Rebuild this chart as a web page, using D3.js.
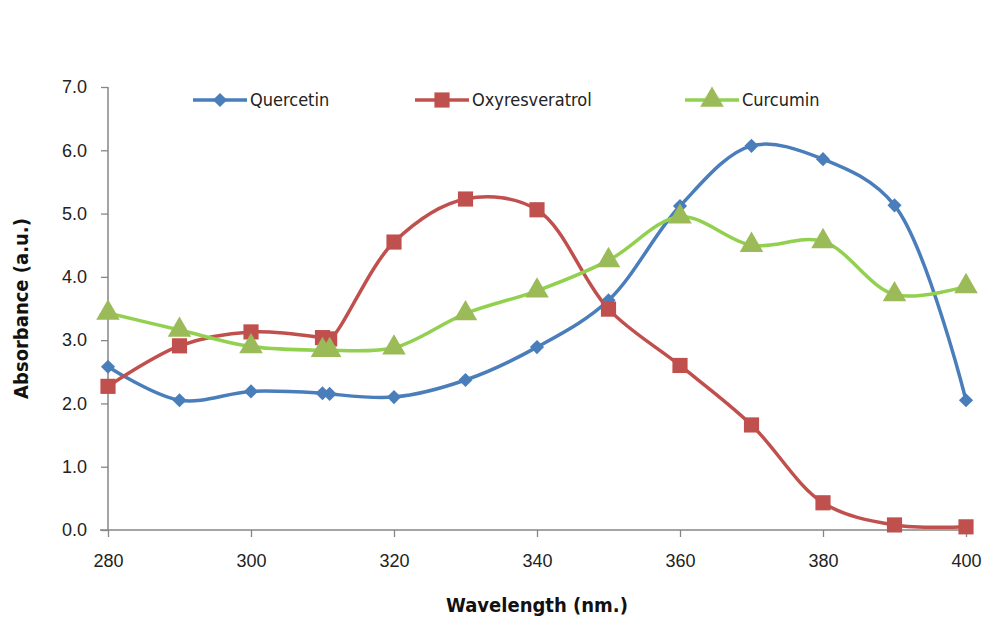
<!DOCTYPE html>
<html>
<head>
<meta charset="utf-8">
<script src="https://cdn.jsdelivr.net/npm/d3@7"></script>
<style>
  body { margin: 0; background: #fff; }
  svg { display: block; font-family: "DejaVu Sans Condensed", "DejaVu Sans", sans-serif; }
</style>
</head>
<body>
<div id="chart"></div>
<script>
// wavelengths (nm) - note the doubled reading around 310/311
var wavelengths = [280, 290, 300, 310, 311, 320, 330, 340, 350, 360, 370, 380, 390, 400];

var quercetin = [2.58, 2.05, 2.19, 2.16, 2.15, 2.10, 2.37, 2.89, 3.63, 5.12, 6.07, 5.86, 5.13, 2.05];
var oxyresveratrol = [2.27, 2.91, 3.13, 3.04, 3.02, 4.55, 5.23, 5.06, 3.49, 2.60, 1.66, 0.43, 0.08, 0.05];
var curcumin = [3.43, 3.16, 2.90, 2.84, 2.84, 2.88, 3.42, 3.78, 4.26, 4.95, 4.50, 4.56, 3.72, 3.85];

var seriesNames = ["Quercetin", "Oxyresveratrol", "Curcumin"];
var xTicks = [280, 300, 320, 340, 360, 380, 400];
var yTicks = [0, 1, 2, 3, 4, 5, 6, 7];

var width = 984, height = 621;
var margin = {left: 108, right: 18, top: 87, bottom: 91};

var svg = d3.select("#chart").append("svg")
    .attr("width", width)
    .attr("height", height);

var x = d3.scaleLinear().domain([280, 400]).range([margin.left, width - margin.right]);
var y = d3.scaleLinear().domain([0, 7]).range([height - margin.bottom, margin.top]);

// axes
var xAxis = svg.append("g")
    .attr("transform", "translate(0," + y(0) + ")")
    .call(d3.axisBottom(x).tickValues(xTicks).tickSize(7).tickPadding(17).tickFormat(d3.format("d")));
xAxis.select(".domain").attr("stroke", "#868686").attr("stroke-width", 1.5).attr("d", "M" + (x(280) - 8) + ",0H" + x(400));
xAxis.selectAll(".tick line").attr("stroke", "#868686").attr("stroke-width", 1.3);
xAxis.selectAll(".tick text").attr("font-size", 18).attr("fill", "#222");

var yAxis = svg.append("g")
    .attr("transform", "translate(" + x(280) + ",0)")
    .call(d3.axisLeft(y).tickValues(yTicks).tickSize(7).tickPadding(14).tickFormat(d3.format(".1f")));
yAxis.select(".domain").attr("stroke", "#868686").attr("stroke-width", 1.5).attr("d", "M0," + y(7) + "V" + y(0));
yAxis.selectAll(".tick line").attr("stroke", "#868686").attr("stroke-width", 1.3);
yAxis.selectAll(".tick text").attr("font-size", 18).attr("fill", "#222");

// axis titles
svg.append("text")
    .attr("x", x(340)).attr("y", 612)
    .attr("text-anchor", "middle")
    .attr("font-size", 20).attr("font-weight", "bold").attr("fill", "#111")
    .text("Wavelength (nm.)");

svg.append("text")
    .attr("transform", "translate(28," + y(3.5) + ") rotate(-90)")
    .attr("text-anchor", "middle")
    .attr("font-size", 20).attr("font-weight", "bold").attr("fill", "#111")
    .text("Absorbance (a.u.)");

// diamond = square turned 45deg
var series = [
  {name: seriesNames[0], values: quercetin, line: "#4A7EBB", fill: "#4A7EBB", symbol: d3.symbolSquare, size: 100, rot: 45},
  {name: seriesNames[1], values: oxyresveratrol, line: "#C0504D", fill: "#C0504D", symbol: d3.symbolSquare, size: 230, rot: 0},
  {name: seriesNames[2], values: curcumin, line: "#92D050", fill: "#9BBB59", symbol: d3.symbolTriangle, size: 240, rot: 0}
];

var line = d3.line()
    .x(function(d) { return x(d[0]); })
    .y(function(d) { return y(d[1]); })
    .curve(d3.curveCatmullRom.alpha(0.5));

series.forEach(function(s) {
  var pts = wavelengths.map(function(w, i) { return [w, s.values[i]]; });
  svg.append("path")
      .datum(pts)
      .attr("d", line)
      .attr("fill", "none")
      .attr("stroke", s.line)
      .attr("stroke-width", 3.5);

  svg.selectAll(null)
      .data(pts)
      .enter()
      .append("path")
      .attr("d", d3.symbol().type(s.symbol).size(s.size))
      .attr("transform", function(d) { return "translate(" + x(d[0]) + "," + y(d[1]) + ") rotate(" + s.rot + ")"; })
      .attr("fill", s.fill);
});

// legend
var legendX = [193, 415, 685];
series.forEach(function(s, i) {
  var g = svg.append("g").attr("transform", "translate(" + legendX[i] + ",100)");
  g.append("line").attr("x1", 0).attr("x2", 54).attr("y1", 0).attr("y2", 0)
      .attr("stroke", s.line).attr("stroke-width", 3.5);
  g.append("path")
      .attr("d", d3.symbol().type(s.symbol).size(s.size))
      .attr("transform", "translate(27,0) rotate(" + s.rot + ")")
      .attr("fill", s.fill);
  g.append("text")
      .attr("x", 57).attr("y", 6)
      .attr("font-size", 18).attr("fill", "#222")
      .text(s.name);
});
</script>
</body>
</html>
